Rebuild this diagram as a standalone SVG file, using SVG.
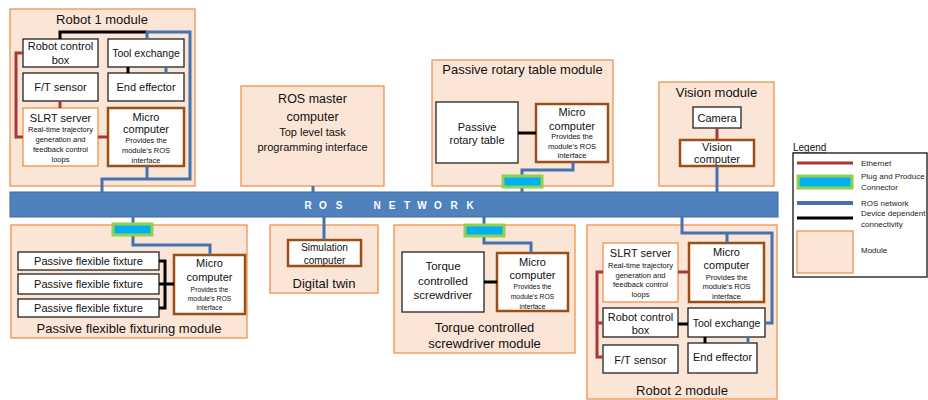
<svg xmlns="http://www.w3.org/2000/svg" width="928" height="400" viewBox="0 0 928 400">
<style>
text{font-family:"Liberation Sans",Arial,sans-serif;fill:#111;text-anchor:middle;dominant-baseline:central}
.mod{fill:#FBE5D6;stroke:#F0914F;stroke-width:1.3}
.box{fill:#fff;stroke:#222;stroke-width:1.3}
.mc{fill:#fff;stroke:#9B4F17;stroke-width:2.5}
.slrt{fill:#fff;stroke:#F0914F;stroke-width:1.3}
.t{font-size:13px}
.n{font-size:11px}
.te{font-size:10.5px}
.s{font-size:7.5px}
.xs{font-size:6.8px}
.eth{fill:none;stroke:#A83838;stroke-width:3}
.ros{fill:none;stroke:#4472B0;stroke-width:3}
.dev{fill:none;stroke:#000;stroke-width:3}
.pp{fill:#00B0F0;stroke:#92D050;stroke-width:3}
.lg{font-size:8px;text-anchor:start;fill:#222}
</style>

<!-- Robot 1 module -->
<g id="robot1">
<rect class="mod" x="10" y="9" width="185" height="177"/>
<text class="t" x="102" y="19">Robot 1 module</text>
<rect class="box" x="23" y="39" width="75" height="28"/>
<text class="n" x="60.5" y="46">Robot control</text>
<text class="n" x="60.5" y="60">box</text>
<rect class="box" x="108" y="39" width="76" height="28"/>
<text class="te" x="146" y="53">Tool exchange</text>
<rect class="box" x="23" y="73" width="75" height="28"/>
<text class="n" x="60.5" y="87">F/T sensor</text>
<rect class="box" x="108" y="73" width="76" height="28"/>
<text class="n" x="146" y="87">End effector</text>
<rect class="slrt" x="23" y="108" width="75" height="58"/>
<text class="n" x="60.5" y="118">SLRT server</text>
<text class="s" x="60.5" y="129">Real-time trajectory</text>
<text class="s" x="60.5" y="139">generation and</text>
<text class="s" x="60.5" y="149">feedback control</text>
<text class="s" x="60.5" y="159">loops</text>
<rect class="mc" x="108" y="108" width="76" height="58"/>
<text class="n" x="146" y="117">Micro</text>
<text class="n" x="146" y="129">computer</text>
<text class="s" x="146" y="140">Provides the</text>
<text class="s" x="146" y="150">module's ROS</text>
<text class="s" x="146" y="160">interface</text>
</g>

<!-- ROS master -->
<g id="rosmaster">
<rect class="mod" x="241" y="86" width="143" height="100"/>
<text x="312.5" y="99" style="font-size:12.5px">ROS master</text>
<text x="312.5" y="117" style="font-size:12.5px">computer</text>
<text class="n" x="312.5" y="132">Top level task</text>
<text class="n" x="312.5" y="147">programming interface</text>
</g>

<!-- Passive rotary table module -->
<g id="rotary">
<rect class="mod" x="432" y="60" width="181" height="126"/>
<text class="t" x="522.5" y="69">Passive rotary table module</text>
<rect class="box" x="436" y="102" width="82" height="61"/>
<text class="n" x="477" y="127">Passive</text>
<text class="n" x="477" y="140">rotary table</text>
<rect class="mc" x="536" y="104" width="72" height="58"/>
<text class="n" x="572" y="112">Micro</text>
<text class="n" x="572" y="126">computer</text>
<text class="s" x="572" y="136">Provides the</text>
<text class="s" x="572" y="146">module's ROS</text>
<text class="s" x="572" y="155">interface</text>
</g>

<!-- Vision module -->
<g id="vision">
<rect class="mod" x="659" y="82" width="115" height="104"/>
<text class="t" x="716.5" y="92">Vision module</text>
<rect class="box" x="693" y="107" width="48" height="21"/>
<text class="n" x="717" y="117.5">Camera</text>
<rect class="mc" x="680" y="140" width="74" height="26"/>
<text class="n" x="717" y="147">Vision</text>
<text class="n" x="717" y="159">computer</text>
</g>

<!-- ROS network bar -->
<g id="rosnetwork">
<rect x="10" y="192" width="768" height="25" fill="#4F81BD" stroke="#3D6A9E" stroke-width="1"/>
<text x="308 323 339 377 392 407 422 438 454 470" y="205" style="font-size:10px;font-weight:bold;fill:#fff">ROSNETWORK</text>
</g>

<!-- Passive flexible fixturing module -->
<g id="fixturing">
<rect class="mod" x="11" y="225" width="236" height="113"/>
<rect class="box" x="18" y="252" width="141" height="18"/>
<text class="n" x="88.5" y="261">Passive flexible fixture</text>
<rect class="box" x="18" y="274" width="141" height="20"/>
<text class="n" x="88.5" y="284">Passive flexible fixture</text>
<rect class="box" x="18" y="299" width="141" height="18"/>
<text class="n" x="88.5" y="308">Passive flexible fixture</text>
<rect class="mc" x="174" y="255" width="71" height="59"/>
<text class="n" x="209.5" y="263">Micro</text>
<text class="n" x="209.5" y="277">computer</text>
<text class="xs" x="209.5" y="289">Provides the</text>
<text class="xs" x="209.5" y="298">module's ROS</text>
<text class="xs" x="209.5" y="307">interface</text>
<text class="t" x="129" y="328">Passive flexible fixturing module</text>
</g>

<!-- Digital twin -->
<g id="digitaltwin">
<rect class="mod" x="270" y="225" width="108" height="68"/>
<rect class="mc" x="288" y="240" width="73" height="26"/>
<text x="324.5" y="247" style="font-size:10px">Simulation</text>
<text x="324.5" y="260" style="font-size:10px">computer</text>
<text class="t" x="324" y="283">Digital twin</text>
</g>

<!-- Torque controlled screwdriver module -->
<g id="screwdriver">
<rect class="mod" x="394" y="225" width="181" height="128"/>
<rect class="box" x="402" y="252" width="82" height="60"/>
<text x="443" y="266" style="font-size:11.5px">Torque</text>
<text x="443" y="281" style="font-size:11.5px">controlled</text>
<text x="443" y="295" style="font-size:11.5px">screwdriver</text>
<rect class="mc" x="497" y="253" width="71" height="58"/>
<text class="n" x="532.5" y="262">Micro</text>
<text class="n" x="532.5" y="275">computer</text>
<text class="xs" x="532.5" y="286">Provides the</text>
<text class="xs" x="532.5" y="296">module's ROS</text>
<text class="xs" x="532.5" y="306">interface</text>
<text class="t" x="484.5" y="327">Torque controlled</text>
<text class="t" x="484.5" y="343">screwdriver module</text>
</g>

<!-- Robot 2 module -->
<g id="robot2">
<rect class="mod" x="587" y="225" width="190" height="174"/>
<rect class="slrt" x="603" y="243" width="75" height="59"/>
<text class="n" x="640.5" y="253">SLRT server</text>
<text class="s" x="640.5" y="265">Real-time trajectory</text>
<text class="s" x="640.5" y="275">generation and</text>
<text class="s" x="640.5" y="284">feedback control</text>
<text class="s" x="640.5" y="294">loops</text>
<rect class="mc" x="689" y="243" width="75" height="59"/>
<text class="n" x="726.5" y="252">Micro</text>
<text class="n" x="726.5" y="265">computer</text>
<text class="s" x="726.5" y="277">Provides the</text>
<text class="s" x="726.5" y="286">module's ROS</text>
<text class="s" x="726.5" y="296">interface</text>
<rect class="box" x="603" y="308" width="75" height="29"/>
<text class="n" x="640.5" y="317">Robot control</text>
<text class="n" x="640.5" y="330">box</text>
<rect class="box" x="688" y="308" width="77" height="29"/>
<text class="te" x="726.5" y="323">Tool exchange</text>
<rect class="box" x="603" y="345" width="75" height="28"/>
<text class="n" x="640.5" y="360">F/T sensor</text>
<rect class="box" x="688" y="343" width="69" height="30"/>
<text class="n" x="722.5" y="357">End effector</text>
<text class="t" x="682" y="390">Robot 2 module</text>
</g>

<!-- Connectors -->
<g id="connectors">
<!-- Robot 1 -->
<path class="dev" d="M60 39 V32 H147"/>
<path class="ros" d="M147 39 V32 H190 V179 H102 V192 M147 166 V179"/>
<path class="dev" d="M128 67 V73"/>
<path class="ros" d="M166 67 V73"/>
<path class="eth" d="M23 53 H16 V137 H23 M98 137 H108 M60 101 V108"/>
<!-- ROS master -->
<path class="ros" d="M313 186 V192"/>
<!-- Rotary -->
<path class="dev" d="M518 133 H536"/>
<path class="ros" d="M573 162 V170 H522 V192"/>
<rect class="pp" x="503" y="176" width="39" height="11"/>
<!-- Vision -->
<path class="eth" d="M717 128 V140"/>
<path class="ros" d="M717 166 V192"/>
<!-- Fixturing -->
<path class="ros" d="M133 217 V245 H210 V255"/>
<rect class="pp" x="113" y="224" width="39" height="11"/>
<path class="dev" d="M159 261 H165 V308 H159 M159 284 H174"/>
<!-- Digital twin -->
<path class="ros" d="M324 217 V240"/>
<!-- Screwdriver -->
<path class="ros" d="M484 217 V243 H531 V253"/>
<rect class="pp" x="465" y="225" width="39" height="11"/>
<path class="dev" d="M484 282 H497"/>
<!-- Robot 2 -->
<path class="ros" d="M682 217 V233 H772 V323 H765 M727 243 V233 M748 337 V343"/>
<path class="dev" d="M678 324 H688 M705 337 V343"/>
<path class="eth" d="M678 272 H689 M603 272 H597 V357 H603 M597 323 H603"/>
</g>

<!-- Legend -->
<g id="legend">
<text x="793" y="147" style="font-size:10px;text-anchor:start;text-decoration:underline">Legend</text>
<rect x="793" y="153" width="134" height="124" fill="#fff" stroke="#333" stroke-width="1.5"/>
<path class="eth" d="M797 163 H853"/>
<text class="lg" x="861" y="163">Ethernet</text>
<rect class="pp" x="798" y="176" width="54" height="12"/>
<text class="lg" x="861" y="176">Plug and Produce</text>
<text class="lg" x="861" y="187">Connector</text>
<path class="ros" d="M797 203 H853" style="stroke-width:4"/>
<text class="lg" x="861" y="203">ROS network</text>
<path class="dev" d="M797 218 H853"/>
<text class="lg" x="861" y="213">Device dependent</text>
<text class="lg" x="861" y="224">connectivity</text>
<rect class="mod" x="797" y="231" width="56" height="42"/>
<text class="lg" x="861" y="250">Module</text>
</g>
</svg>
